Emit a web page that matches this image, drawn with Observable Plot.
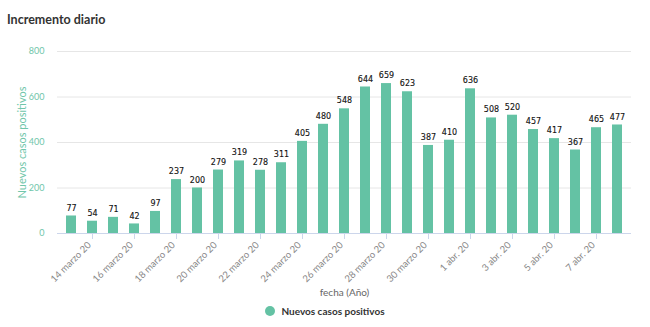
<!DOCTYPE html>
<html>
<head>
<meta charset="utf-8">
<script src="https://cdn.jsdelivr.net/npm/d3@7"></script>
<script src="https://cdn.jsdelivr.net/npm/@observablehq/plot@0.6"></script>
<style>
  html, body { margin: 0; padding: 0; background: #fff; }
  body { width: 650px; height: 327px; overflow: hidden; font-family: Lato, sans-serif; }
  #title { height: 36px; box-sizing: border-box; padding: 12px 0 0 7px; font-size: 12.5px; line-height: 16px; font-weight: bold; color: #333; }
  #chart svg { display: block; }
  #legend { display: flex; justify-content: center; align-items: center; margin-top: 7px; height: 12px; font-size: 10px; font-weight: bold; color: #333; }
  #legend .dot { width: 10px; height: 10px; border-radius: 50%; background: #64c2a4; margin-right: 6px; }
</style>
</head>
<body>
<div id="title">Incremento diario</div>
<div id="chart"></div>
<div id="legend"><span class="dot"></span><span>Nuevos casos positivos</span></div>
<script>
const categories = [
  "13 marzo 20","14 marzo 20","15 marzo 20","16 marzo 20","17 marzo 20","18 marzo 20","19 marzo 20",
  "20 marzo 20","21 marzo 20","22 marzo 20","23 marzo 20","24 marzo 20","25 marzo 20","26 marzo 20",
  "27 marzo 20","28 marzo 20","29 marzo 20","30 marzo 20","31 marzo 20",
  "1 abr. 20","2 abr. 20","3 abr. 20","4 abr. 20","5 abr. 20","6 abr. 20","7 abr. 20","8 abr. 20"
];
const values = [77,54,71,42,97,237,200,279,319,278,311,405,480,548,644,659,623,387,410,636,508,520,457,417,367,465,477];
const tickLabels = ["14 marzo 20","16 marzo 20","18 marzo 20","20 marzo 20","22 marzo 20","24 marzo 20","26 marzo 20","28 marzo 20","30 marzo 20","1 abr. 20","3 abr. 20","5 abr. 20","7 abr. 20"];
const yTicks = [0, 200, 400, 600, 800];

const data = categories.map((c, i) => ({fecha: c, valor: values[i]}));

const chart = Plot.plot({
  width: 650,
  height: 262,
  marginTop: 15,
  marginBottom: 65,
  marginLeft: 57,
  marginRight: 19,
  style: {fontFamily: "Lato, sans-serif", background: "transparent", overflow: "visible"},
  x: {domain: categories, paddingInner: 0.52, paddingOuter: 0.2, label: null},
  y: {domain: [0, 800], label: null},
  marks: [
    Plot.gridY(yTicks, {stroke: "#e6e6e6", strokeOpacity: 1}),
    Plot.barY(data, {x: "fecha", y: "valor", fill: "#64c2a4"}),
    Plot.ruleY([0], {stroke: "#ccd6eb"}),
    Plot.text(data, {x: "fecha", y: "valor", text: d => String(d.valor), dy: -8, fontSize: 8, fontFamily: "DejaVu Sans", fill: "#111", stroke: "#111", strokeWidth: 0.12}),
    Plot.axisY({ticks: yTicks, tickSize: 0, tickPadding: 13, fontSize: 9, color: "#70c6aa", label: null}),
    Plot.axisY({ticks: [], tickSize: 0, fontSize: 11, color: "#70c6aa", label: "Nuevos casos positivos", labelAnchor: "center", labelArrow: "none", labelOffset: 39}),
    Plot.axisX({ticks: tickLabels, tickSize: 6, stroke: "#ccd6eb", text: null, label: null}),
    Plot.axisX({ticks: tickLabels, tickSize: 6, tickRotate: -45, stroke: "none", fill: "#888", fontSize: 9.5, tickPadding: 2, dx: -3, dy: 2, label: null}),
    Plot.axisX({ticks: [], tickSize: 0, fill: "#666", fontSize: 10, label: "fecha (Año)", labelAnchor: "center", labelArrow: "none", labelOffset: 62})
  ]
});
document.getElementById("chart").appendChild(chart);
</script>
</body>
</html>
